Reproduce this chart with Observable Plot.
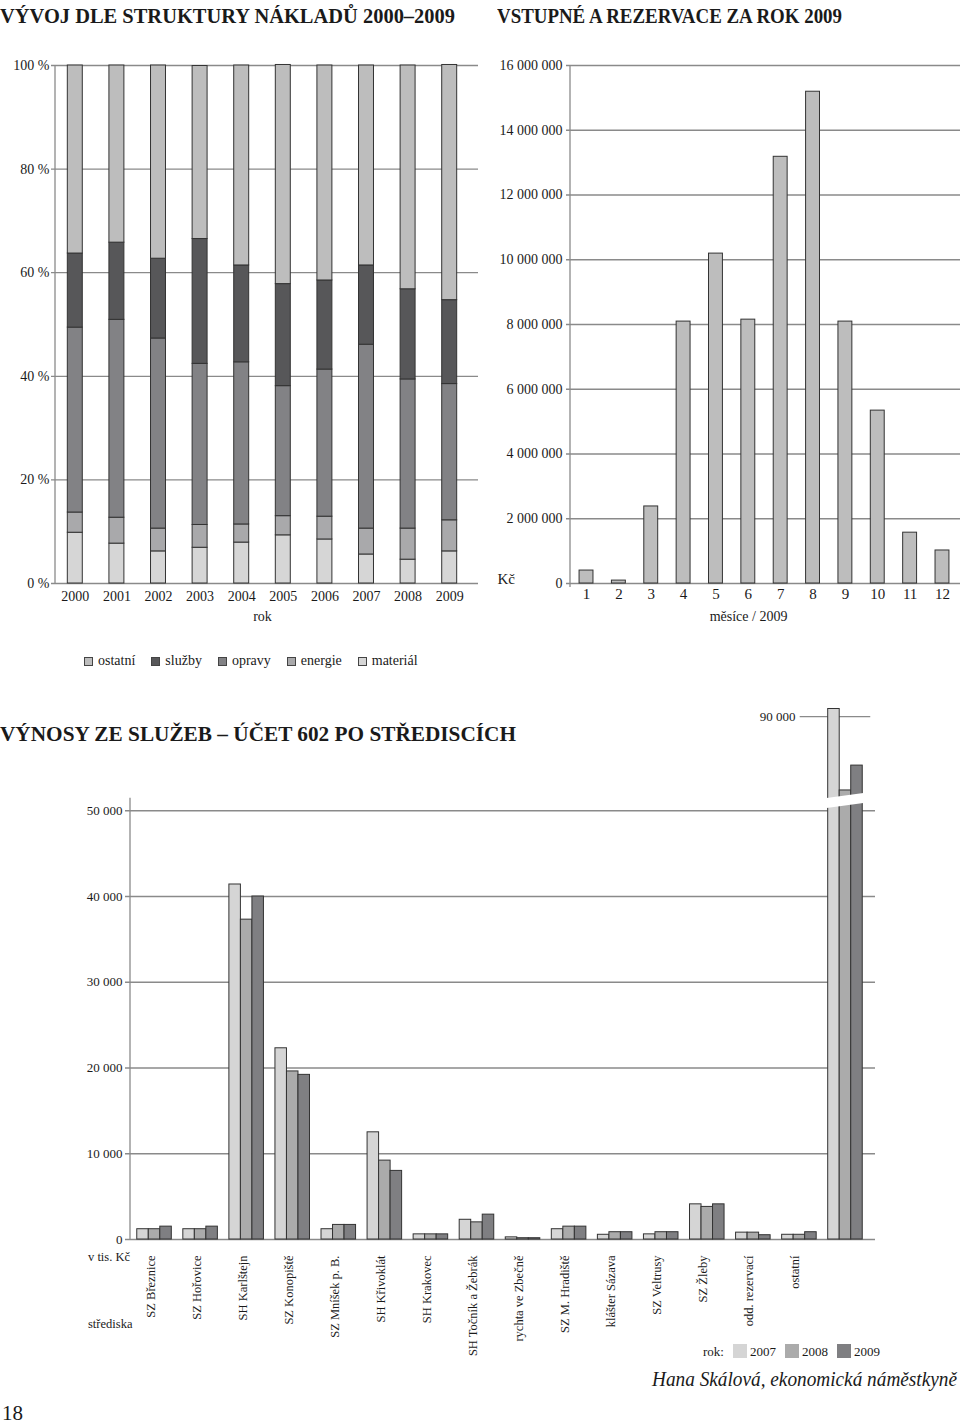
<!DOCTYPE html>
<html><head><meta charset="utf-8">
<script src="https://cdn.jsdelivr.net/npm/d3@7"></script>
<script src="https://cdn.jsdelivr.net/npm/@observablehq/plot@0.6"></script>
<style>
body{margin:0;background:#fff;}
#page{position:relative;width:960px;height:1426px;overflow:hidden;background:#fff;font-family:'Liberation Serif','Times New Roman',serif;color:#1a1a1a;}
.abs{position:absolute;white-space:nowrap;line-height:1;}
.title{font-weight:bold;font-size:20px;transform-origin:0 0;}
.sw{display:inline-block;box-sizing:border-box;border:1px solid #444;vertical-align:middle;}
svg{overflow:visible;}
</style></head><body><div id="page"></div>
<script>
// ---------- DATA ----------
// Chart 1: cost structure 2000–2009 (% share)
const roky = ["2000","2001","2002","2003","2004","2005","2006","2007","2008","2009"];
const kategorie = ["materiál","energie","opravy","služby","ostatní"]; // stacking order bottom -> top
const material = [9.8, 7.7, 6.2, 6.9, 7.9, 9.3, 8.5, 5.6, 4.6, 6.2];
const energie  = [3.9, 5.0, 4.4, 4.4, 3.5, 3.7, 4.4, 5.0, 6.0, 6.0];
const opravy   = [35.7, 38.2, 36.7, 31.1, 31.3, 25.1, 28.4, 35.5, 28.8, 26.3];
const sluzby   = [14.3, 14.9, 15.4, 24.1, 18.7, 19.7, 17.2, 15.3, 17.4, 16.2];
const ostatni  = [36.3, 34.2, 37.3, 33.4, 38.6, 42.3, 41.5, 38.6, 43.2, 45.4];
const procentaTicks = [0, 20, 40, 60, 80, 100];
const legendaPoradi = ["ostatní","služby","opravy","energie","materiál"];

// Chart 2: entrance fees and reservations 2009 (Kč)
const mesice = ["1","2","3","4","5","6","7","8","9","10","11","12"];
const vstupne = [400000, 90000, 2380000, 8090000, 10190000, 8150000, 13180000, 15190000, 8090000, 5340000, 1570000, 1020000];
const kcTicks = [0, 2000000, 4000000, 6000000, 8000000, 10000000, 12000000, 14000000, 16000000];

// Chart 3: service revenues by centre (thousand Kč)
const strediska = ["SZ Březnice","SZ Hořovice","SH Karlštejn","SZ Konopiště","SZ Mníšek p. B.","SH Křivoklát","SH Krakovec","SH Točník a Žebrák","rychta ve Zbečně","SZ M. Hradiště","klášter Sázava","SZ Veltrusy","SZ Žleby","odd. rezervací","ostatní","celkem"];
const v2007 = [1200, 1200, 41400, 22300, 1200, 12500, 600, 2300, 250, 1200, 550, 600, 4100, 800, 550, 90900];
const v2008 = [1200, 1200, 37300, 19600, 1700, 9200, 600, 2000, 150, 1500, 850, 850, 3800, 800, 550, 81400];
const v2009 = [1500, 1500, 40000, 19200, 1700, 8000, 600, 2900, 150, 1500, 850, 850, 4100, 500, 850, 84300];
const rokyVynosy = ["2007","2008","2009"];
const tickyDolni = [0, 10000, 20000, 30000, 40000, 50000];
const tickyHorni = [90000];
const zlom = [50300, 80500]; // axis break
const yMax3 = 92000;

// ---------- STYLE ----------
const FONT = "'Liberation Serif','Times New Roman',serif";
const GRID = "#8a8a8a";
const EDGE = "#333";
const barvyNaklady = ["#d6d6d6","#a9a9ab","#828285","#575759","#bdbdbd"];
const barvyRoky = ["#d5d5d5","#ababab","#7f7f82"];
const fmt = d => d3.format(",")(d).replace(/,/g, " ");
const baseStyle = {fontFamily: FONT, fontSize: "14px", background: "none", color: "#1a1a1a", overflow: "visible"};

const page = document.getElementById("page");
function place(el, left, top) { el.classList.add("abs"); el.style.left = left + "px"; el.style.top = top + "px"; page.appendChild(el); return el; }
function txt(s, left, top, css = {}) { const e = document.createElement("div"); e.textContent = s; Object.assign(e.style, css); return place(e, left, top); }
function fitWidth(el, w) { const r = el.getBoundingClientRect().width; el.style.transform = `scaleX(${w / r})`; el.style.transformOrigin = "0 0"; }
function vline(svg, x, y1, y2) {
  d3.select(svg).append("line").attr("x1", x).attr("x2", x).attr("y1", y1).attr("y2", y2)
    .attr("stroke", GRID).attr("stroke-width", 1.3);
}

// ---------- TITLES ----------
const t1 = txt("VÝVOJ DLE STRUKTURY NÁKLADŮ 2000–2009", 0, 6); t1.classList.add("title"); fitWidth(t1, 455);
const t2 = txt("VSTUPNÉ A REZERVACE ZA ROK 2009", 497, 6); t2.classList.add("title"); fitWidth(t2, 345);
const t3 = txt("VÝNOSY ZE SLUŽEB – ÚČET 602 PO STŘEDISCÍCH", 0, 724); t3.classList.add("title"); fitWidth(t3, 516);

// ---------- CHART 1 ----------
const serie = {"materiál": material, "energie": energie, "opravy": opravy, "služby": sluzby, "ostatní": ostatni};
const rowsNaklady = [];
for (const k of kategorie) roky.forEach((r, i) => rowsNaklady.push({rok: r, kat: k, podil: serie[k][i]}));

const chart1 = Plot.plot({
  width: 480, height: 590, marginLeft: 54, marginRight: 10, marginTop: 15, marginBottom: 57,
  style: baseStyle,
  x: {domain: roky, paddingInner: 0.64, paddingOuter: 0.32, axis: null, round: false},
  y: {domain: [0, 100], axis: null},
  color: {domain: kategorie, range: barvyNaklady},
  marks: [
    Plot.ruleY(procentaTicks, {stroke: GRID, strokeWidth: 1.3, insetLeft: -3, insetRight: -8}),
    Plot.barY(rowsNaklady, {x: "rok", y: "podil", fill: "kat", stroke: EDGE, strokeWidth: 1}),
    Plot.text(procentaTicks, {y: d => d, text: d => `${d} %`, frameAnchor: "left", textAnchor: "end", dx: -5}),
    Plot.text(roky, {x: d => d, text: d => d, frameAnchor: "bottom", dy: 17}),
    Plot.text(["rok"], {text: d => d, frameAnchor: "bottom", dy: 37})
  ]
});
place(chart1, 0, 50);
{ const xs = chart1.scale("x"), ys = chart1.scale("y"); vline(chart1, xs.range[0] + 1, ys.apply(100), ys.apply(0)); }

// ---------- CHART 2 ----------
const rowsVstupne = mesice.map((m, i) => ({mesic: m, kc: vstupne[i]}));
const chart2 = Plot.plot({
  width: 480, height: 590, marginLeft: 90, marginRight: 2, marginTop: 15, marginBottom: 57,
  style: baseStyle,
  x: {domain: mesice, paddingInner: 0.57, paddingOuter: 0.28, axis: null, round: false},
  y: {domain: [0, 16000000], axis: null},
  marks: [
    Plot.ruleY(kcTicks, {stroke: GRID, strokeWidth: 1.3, insetLeft: -4, insetRight: -2}),
    Plot.barY(rowsVstupne, {x: "mesic", y: "kc", fill: "#bdbdbd", stroke: EDGE, strokeWidth: 1}),
    Plot.text(kcTicks, {y: d => d, text: fmt, frameAnchor: "left", textAnchor: "end", dx: -8}),
    Plot.text(mesice, {x: d => d, text: d => d, frameAnchor: "bottom", dy: 15, fontSize: 15}),
    Plot.text(["měsíce / 2009"], {text: d => d, frameAnchor: "bottom", dy: 37, dx: -16}),
    Plot.text(["Kč"], {text: d => d, frameAnchor: "bottom-left", textAnchor: "start", dx: -73, fontSize: 15})
  ]
});
place(chart2, 480, 50);
{ const xs = chart2.scale("x"), ys = chart2.scale("y"); vline(chart2, xs.range[0], ys.apply(16000000), ys.apply(0) + 4); }

// ---------- LEGEND 1 ----------
{
  const lg = document.createElement("div");
  lg.style.display = "flex"; lg.style.alignItems = "center"; lg.style.gap = "16px"; lg.style.fontSize = "14px";
  for (const k of legendaPoradi) {
    const it = document.createElement("span"); it.style.display = "inline-flex"; it.style.alignItems = "center";
    const sw = document.createElement("span"); sw.className = "sw"; sw.style.width = "9px"; sw.style.height = "9px";
    sw.style.background = barvyNaklady[kategorie.indexOf(k)]; sw.style.marginRight = "5px";
    it.appendChild(sw); it.appendChild(document.createTextNode(k)); lg.appendChild(it);
  }
  place(lg, 84, 654);
}

// ---------- CHART 3 (broken y axis) ----------
const K = 0.008575;               // px per thousand Kč
const gapPx = 10;                 // height of the axis break
const gapU = gapPx / K;
// y transform: identity below the break, compressed across it, shifted above it
const breakT = v => v <= zlom[0] ? v
  : v >= zlom[1] ? zlom[0] + gapU + (v - zlom[1])
  : zlom[0] + gapU * (v - zlom[0]) / (zlom[1] - zlom[0]);
const H3 = 700, yBase = 549;
const tMax = breakT(yMax3);
const mTop3 = yBase - tMax * K;
const plotL = 131, plotR = 92, W3 = 960;
const bw = (W3 - plotL - plotR) / strediska.length * 0.75;
const rowsVynosy = strediska.map((s, i) => ({s, v2007: v2007[i], v2008: v2008[i], v2009: v2009[i]}));
const chart3 = Plot.plot({
  width: W3, height: H3, marginLeft: plotL, marginRight: plotR, marginTop: mTop3, marginBottom: H3 - yBase,
  style: baseStyle,
  x: {domain: strediska, paddingInner: 0.25, paddingOuter: 0.125, axis: null, round: false},
  y: {domain: [0, tMax], transform: breakT, axis: null},
  marks: [
    Plot.ruleY(tickyDolni, {stroke: GRID, strokeWidth: 1.3, insetLeft: -6, insetRight: -7}),
    Plot.tickY(tickyHorni, {x: () => "celkem", y: d => d, stroke: GRID, strokeWidth: 1.3, insetLeft: -28, insetRight: -8}),
    Plot.barY(rowsVynosy, {x: "s", y: "v2007", fill: barvyRoky[0], stroke: EDGE, strokeWidth: 1, insetRight: 2 * bw / 3}),
    Plot.barY(rowsVynosy, {x: "s", y: "v2008", fill: barvyRoky[1], stroke: EDGE, strokeWidth: 1, insetLeft: bw / 3, insetRight: bw / 3}),
    Plot.barY(rowsVynosy, {x: "s", y: "v2009", fill: barvyRoky[2], stroke: EDGE, strokeWidth: 1, insetLeft: 2 * bw / 3}),
    Plot.text(tickyDolni, {y: d => d, text: fmt, frameAnchor: "left", textAnchor: "end", dx: -9, fontSize: 13}),
    Plot.text(tickyHorni, {x: () => "celkem", y: d => d, text: fmt, textAnchor: "end", dx: -50, fontSize: 13}),
    Plot.text(strediska, {x: d => d, text: d => d === "celkem" ? "" : d, frameAnchor: "bottom", rotate: -90, textAnchor: "end", dy: 16, fontSize: 12.5})
  ]
});
place(chart3, 0, 690);
{
  const xs = chart3.scale("x"), ys = chart3.scale("y");
  const y0 = ys.apply(0);
  const yl = y0 - zlom[0] * K;      // bottom of the break
  const yh = yl - gapPx;            // top of the break
  vline(chart3, plotL - 1, yh, y0);
  const bx0 = xs.apply("celkem") - 3, bx1 = xs.apply("celkem") + xs.bandwidth + 3;
  d3.select(chart3).append("polygon")
    .attr("points", [[bx0, yh + 0.5], [bx1, yh - 5], [bx1, yl - 5], [bx0, yl + 0.5]].map(p => p.join(",")).join(" "))
    .attr("fill", "#fff");
}

// ---------- OTHER TEXT ----------
txt("v tis. Kč", 88, 1251, {fontSize: "12.5px"});
txt("střediska", 88, 1318, {fontSize: "12.5px"});
{
  const lg = document.createElement("div");
  lg.style.display = "flex"; lg.style.alignItems = "center"; lg.style.fontSize = "13px";
  const lab = document.createElement("span"); lab.textContent = "rok:"; lab.style.marginRight = "9px"; lg.appendChild(lab);
  rokyVynosy.forEach((r, i) => {
    const sw = document.createElement("span"); sw.style.display = "inline-block"; sw.style.width = "14px"; sw.style.height = "14px";
    sw.style.background = barvyRoky[i]; sw.style.marginRight = "3px"; lg.appendChild(sw);
    const t = document.createElement("span"); t.textContent = r; t.style.marginRight = "9px"; lg.appendChild(t);
  });
  place(lg, 703, 1344);
}
const sig = txt("Hana Skálová, ekonomická náměstkyně", 652, 1369, {fontSize: "20px", fontStyle: "italic"}); fitWidth(sig, 305);
txt("18", 2, 1403, {fontSize: "21px"});
</script></body></html>
